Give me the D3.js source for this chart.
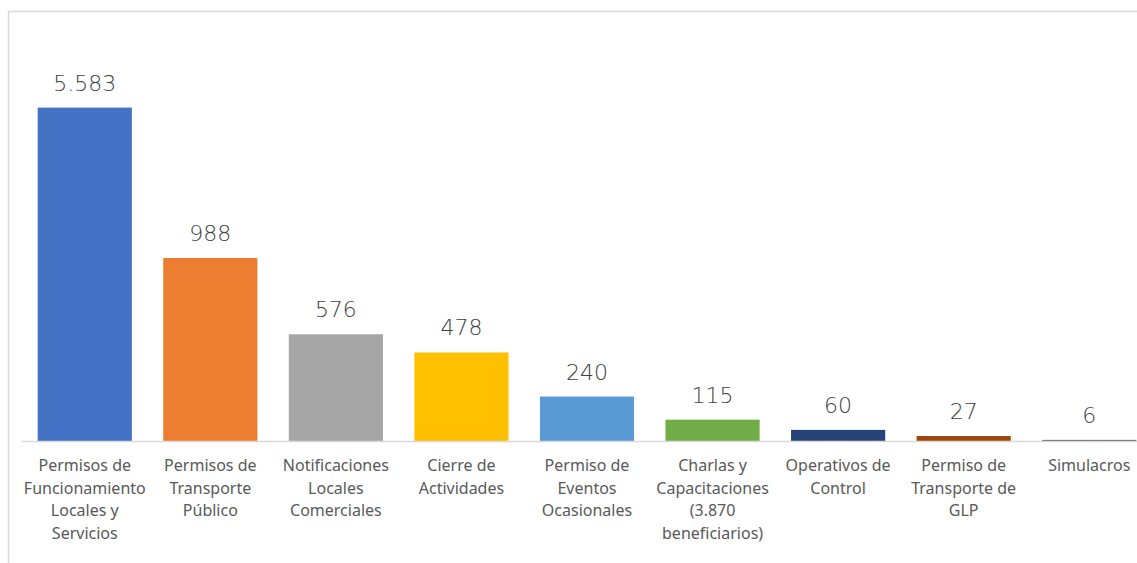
<!DOCTYPE html>
<html>
<head>
<meta charset="utf-8">
<script src="https://cdn.jsdelivr.net/npm/d3@7"></script>
<style>
  html, body { margin: 0; padding: 0; background: #fff; overflow: hidden; }
  .value-label { font-family: "DejaVu Sans", sans-serif; font-size: 22px; fill: #404040; font-weight: 300; }
  .cat-label { font-family: "Noto Sans", sans-serif; font-size: 16px; fill: #595959; }
</style>
</head>
<body>
<div id="chart"></div>
<script>
// categories (line breaks as in the original axis labels)
const categories = [
    ['Permisos de', 'Funcionamiento', 'Locales y', 'Servicios'],
    ['Permisos de', 'Transporte', 'Público'],
    ['Notificaciones', 'Locales', 'Comerciales'],
    ['Cierre de', 'Actividades'],
    ['Permiso de', 'Eventos', 'Ocasionales'],
    ['Charlas y', 'Capacitaciones', '(3.870', 'beneficiarios)'],
    ['Operativos de', 'Control'],
    ['Permiso de', 'Transporte de', 'GLP'],
    ['Simulacros']
];
const values = [5583, 988, 576, 478, 240, 115, 60, 27, 6];
const colors = ['#4472C4', '#ED7D31', '#A5A5A5', '#FFC000', '#5B9BD5', '#70AD47', '#264478', '#9E480E', '#636363'];
// visible value axis stops here, taller bars get cut at the top
const axisMax = 1800;

class BarChart {
    constructor(_config, _data) {
        this.config = {
            parentElement: _config.parentElement,
            containerWidth: _config.containerWidth || 1137,
            containerHeight: _config.containerHeight || 563,
            margin: _config.margin || {top: 107.6, right: -15, bottom: 122, left: 22}
        };
        this.data = _data;
        this.initVis();
    }

    initVis() {
        let vis = this;
        vis.width = vis.config.containerWidth - vis.config.margin.left - vis.config.margin.right;
        vis.height = vis.config.containerHeight - vis.config.margin.top - vis.config.margin.bottom;

        vis.svg = d3.select(vis.config.parentElement)
            .append('svg')
            .attr('width', vis.config.containerWidth)
            .attr('height', vis.config.containerHeight);

        // chart frame (only top and left edges show in the window)
        vis.svg.append('rect')
            .attr('x', 8.5)
            .attr('y', 11.5)
            .attr('width', 1200)
            .attr('height', 700)
            .attr('fill', 'none')
            .attr('stroke', '#d9d9d9')
            .attr('stroke-width', 1.5);

        vis.chart = vis.svg.append('g')
            .attr('transform', `translate(${vis.config.margin.left},${vis.config.margin.top})`);

        vis.xScale = d3.scaleBand()
            .domain(d3.range(vis.data.length))
            .range([0, vis.width])
            .paddingInner(0.25)
            .paddingOuter(0.125);

        vis.yScale = d3.scaleLinear()
            .domain([0, axisMax])
            .range([vis.height, 0])
            .clamp(true);

        vis.format = d3.formatLocale({decimal: ',', thousands: '.', grouping: [3], currency: ['', '']}).format(',d');

        vis.renderVis();
    }

    renderVis() {
        let vis = this;

        vis.chart.selectAll('.bar')
            .data(vis.data)
            .join('rect')
            .attr('class', 'bar')
            .attr('x', (d, i) => vis.xScale(i))
            .attr('width', vis.xScale.bandwidth())
            .attr('y', d => vis.yScale(d.value))
            .attr('height', d => vis.height - vis.yScale(d.value))
            .attr('fill', d => d.color);

        // baseline
        vis.chart.append('line')
            .attr('x1', 0)
            .attr('x2', vis.width + 20)
            .attr('y1', vis.height + 0.5)
            .attr('y2', vis.height + 0.5)
            .attr('stroke', '#d9d9d9')
            .attr('stroke-width', 1.5);

        vis.chart.selectAll('.value-label')
            .data(vis.data)
            .join('text')
            .attr('class', 'value-label')
            .attr('x', (d, i) => vis.xScale(i) + vis.xScale.bandwidth() / 2)
            .attr('y', d => vis.yScale(d.value) - 17)
            .attr('text-anchor', 'middle')
            .text(d => vis.format(d.value));

        const cats = vis.chart.selectAll('.cat-label')
            .data(vis.data)
            .join('text')
            .attr('class', 'cat-label')
            .attr('text-anchor', 'middle')
            .attr('transform', (d, i) => `translate(${vis.xScale(i) + vis.xScale.bandwidth() / 2},${vis.height + 30})`);

        cats.selectAll('tspan')
            .data(d => d.lines)
            .join('tspan')
            .attr('x', 0)
            .attr('y', (d, i) => i * 22.7)
            .text(d => d);
    }
}

const data = categories.map((c, i) => ({lines: c, value: values[i], color: colors[i]}));
new BarChart({parentElement: '#chart'}, data);
</script>
</body>
</html>
